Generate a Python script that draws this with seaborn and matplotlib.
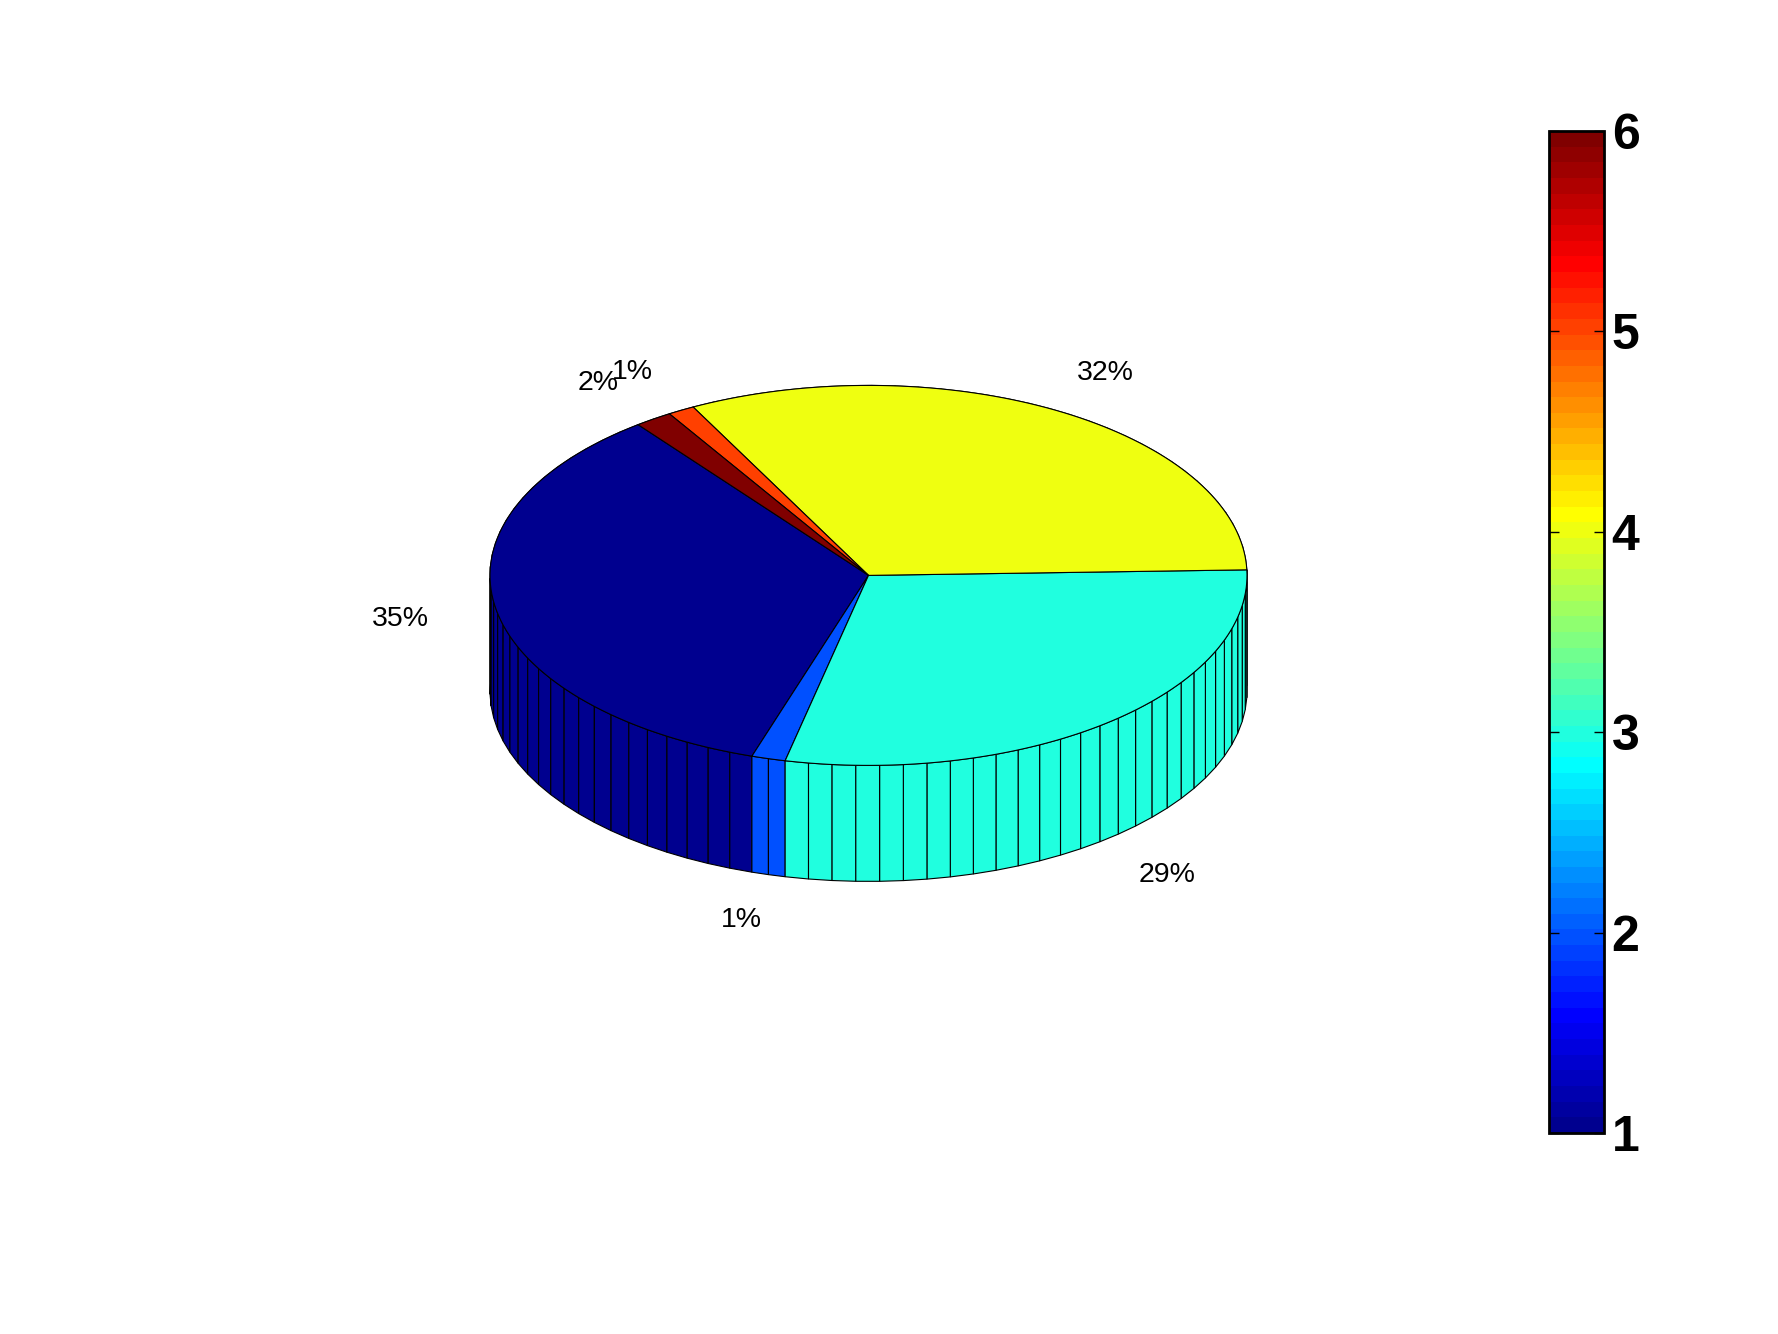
import numpy as np
import seaborn as sns
import matplotlib.pyplot as plt
from matplotlib.cm import ScalarMappable
from matplotlib.colors import LinearSegmentedColormap, Normalize

# slices in drawing order (counter-clockwise), value = share in percent
categories = [1, 2, 3, 4, 5, 6]
shares = [34.6, 1.45, 29.0, 32.2, 1.15, 1.6]
labels = ['35%', '1%', '29%', '32%', '1%', '2%']
cbar_ticks = [1, 2, 3, 4, 5, 6]

# view of the pie, in pixels of the 1778x1334 figure
W, H = 1778, 1334
CX, CY = 868.5, 575.4
RX, RY = 378.5, 190.0
DEPTH = 116.0 / RY
START = 127.5
LABEL_R = 1.25

sns.set_theme(style='white')
plt.rcParams['font.family'] = ['Liberation Sans', 'DejaVu Sans']

# matlab style jet, 64 levels
jet = LinearSegmentedColormap.from_list('matlab_jet', [
    (0.0, (0, 0, 0.5625)),
    (7 / 63, (0, 0, 1)),
    (23 / 63, (0, 1, 1)),
    (39 / 63, (1, 1, 0)),
    (55 / 63, (1, 0, 0)),
    (1.0, (0.5, 0, 0)),
], N=64)
norm = Normalize(1, 6)

fig = plt.figure(figsize=(W / 100, H / 100), dpi=100, facecolor='white')
ax = fig.add_axes([0, 0, 1, 1])
ax.set_xlim(-CX / RX, (W - CX) / RX)
ax.set_ylim((CY - H) / RY, CY / RY)
ax.axis('off')
sns.despine(ax=ax, left=True, bottom=True)

edges = START + np.concatenate([[0], np.cumsum(shares)]) / sum(shares) * 360

# side facets first, sorted back to front
facets = []
for i, cat in enumerate(categories):
    n = int(np.ceil(shares[i]))
    steps = np.radians(np.linspace(edges[i], edges[i + 1], n + 1))
    for a, b in zip(steps[:-1], steps[1:]):
        facets.append((a, b, jet(norm(cat))))
facets.sort(key=lambda f: -np.sin((f[0] + f[1]) / 2))
for a, b, col in facets:
    xs = [np.cos(a), np.cos(b), np.cos(b), np.cos(a)]
    ys = [np.sin(a), np.sin(b), np.sin(b) - DEPTH, np.sin(a) - DEPTH]
    ax.fill(xs, ys, facecolor=col, edgecolor='black', linewidth=0.8, joinstyle='miter')

# top of the pie and the percent labels
for i, cat in enumerate(categories):
    t = np.radians(np.linspace(edges[i], edges[i + 1], 80))
    xs = np.concatenate([[0], np.cos(t)])
    ys = np.concatenate([[0], np.sin(t)])
    ax.fill(xs, ys, facecolor=jet(norm(cat)), edgecolor='black', linewidth=0.8, joinstyle='miter')

    mid = np.radians((edges[i] + edges[i + 1]) / 2)
    lx = LABEL_R * np.cos(mid) - 2 / RX
    ly = LABEL_R * np.sin(mid)
    if np.sin(mid) < -0.5:
        ly -= DEPTH
    else:
        ly -= 3 / RY
    ax.text(lx, ly, labels[i], ha='center', va='center', fontsize=20.5, color='black')

# colorbar
cax = fig.add_axes([1549 / W, 1 - 1133 / H, 55 / W, (1133 - 131) / H])
cb = fig.colorbar(ScalarMappable(norm=norm, cmap=jet), cax=cax, ticks=cbar_ticks)
cb.outline.set_linewidth(2.0)
cb.outline.set_edgecolor('black')
cax.set_axisbelow(False)
cax.tick_params(axis='y', which='both', direction='in', length=7.5, width=1.0,
                left=True, right=True, labelright=True, color='black', pad=5.5)
cb.minorticks_off()
for t in cax.get_yticklabels():
    t.set_fontsize(36)
    t.set_fontweight('bold')
    t.set_color('black')

fig.savefig('out.png', dpi=100, facecolor='white')
